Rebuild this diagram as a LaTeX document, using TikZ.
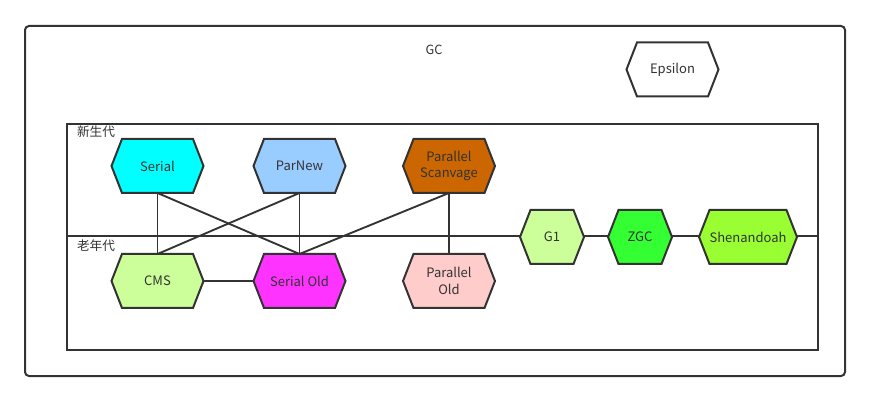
\documentclass[tikz,border=0pt]{standalone}
\usepackage{fontspec}
\setmainfont{Noto Sans CJK SC}
\usetikzlibrary{calc,backgrounds}
\definecolor{ink}{HTML}{333333}
\definecolor{cSerial}{HTML}{00FFFF}
\definecolor{cParNew}{HTML}{99CCFF}
\definecolor{cPS}{HTML}{CC6600}
\definecolor{cCMS}{HTML}{CCFF99}
\definecolor{cSerialOld}{HTML}{FF33FF}
\definecolor{cParOld}{HTML}{FFCCCC}
\definecolor{cGone}{HTML}{CCFF99}
\definecolor{cZGC}{HTML}{33FF33}
\definecolor{cShen}{HTML}{99FF33}
% hexagon outline behind a named node: #1 node, #2 fill colour
\newcommand\hexbehind[2]{%
  \filldraw[hexline, fill=#2]
    ($(#1.north west)+(10.5,0)$) -- ($(#1.north east)+(-10.5,0)$) -- (#1.east)
    -- ($(#1.south east)+(-10.5,0)$) -- ($(#1.south west)+(10.5,0)$) -- (#1.west) -- cycle;}
\begin{document}
\begin{tikzpicture}[x=0.75pt,y=-0.75pt,
  gc/.style={minimum width=69pt, minimum height=40.5pt, inner sep=0pt, outer sep=0pt,
    align=center, text=ink, font=\fontsize{9.75pt}{12.5pt}\selectfont},
  narrow/.style={gc, minimum width=48pt},
  label/.style={text=ink, inner sep=0pt, font=\fontsize{9.5pt}{11pt}\selectfont},
  hexline/.style={draw=ink, line width=1.5pt, line join=miter},
  frame/.style={draw=ink, line width=1.5pt},
  link/.style={draw=ink, line width=1.4pt}]
\useasboundingbox (0,0) rectangle (870,402);

% title and section labels
\node[label] (title) at (434,50) {GC};
\node[label] (young) at (96,132) {新生代};
\node[label] (old) at (96,246) {老年代};

% young generation collectors
\node[gc] (serial) at (157.5,166) {Serial};
\node[gc] (parnew) at (299.5,166) {ParNew};
\node[gc] (pscav) at (449,166) {Parallel\\Scanvage};

% old generation collectors
\node[gc] (cms) at (157.5,281) {CMS};
\node[gc] (serold) at (299.5,281) {Serial Old};
\node[gc] (parold) at (449,281) {Parallel\\Old};

% whole-heap collectors
\node[narrow] (g1) at (552,237) {G1};
\node[narrow] (zgc) at (640,237) {ZGC};
\node[gc, minimum width=73.5pt] (shen) at (748,237) {Shenandoah};
\node[gc] (eps) at (672.5,69.5) {Epsilon};

\begin{scope}[on background layer]
  \fill[white] (0,0) rectangle (870,402);
  \draw[frame, rounded corners=3pt] (25,26) rectangle (845,376);
  \draw[frame] (67,124) rectangle (818,350);
  \coordinate (divL) at (67,236.5);
  \coordinate (divR) at (818,236.5);
  \draw[frame] (divL) -- (divR);

  % collector pairings
  \draw[link] (serial.south) -- (cms.north);
  \draw[link] (serial.south) -- (serold.north);
  \draw[link] (parnew.south) -- (cms.north);
  \draw[link] (parnew.south) -- (serold.north);
  \draw[link] (pscav.south) -- (serold.north);
  \draw[link] (pscav.south) -- (parold.north);
  \draw[link] (cms.east) -- (serold.west);

  \hexbehind{serial}{cSerial}
  \hexbehind{parnew}{cParNew}
  \hexbehind{pscav}{cPS}
  \hexbehind{cms}{cCMS}
  \hexbehind{serold}{cSerialOld}
  \hexbehind{parold}{cParOld}
  \hexbehind{g1}{cGone}
  \hexbehind{zgc}{cZGC}
  \hexbehind{shen}{cShen}
  \hexbehind{eps}{white}
\end{scope}
\end{tikzpicture}
\end{document}
